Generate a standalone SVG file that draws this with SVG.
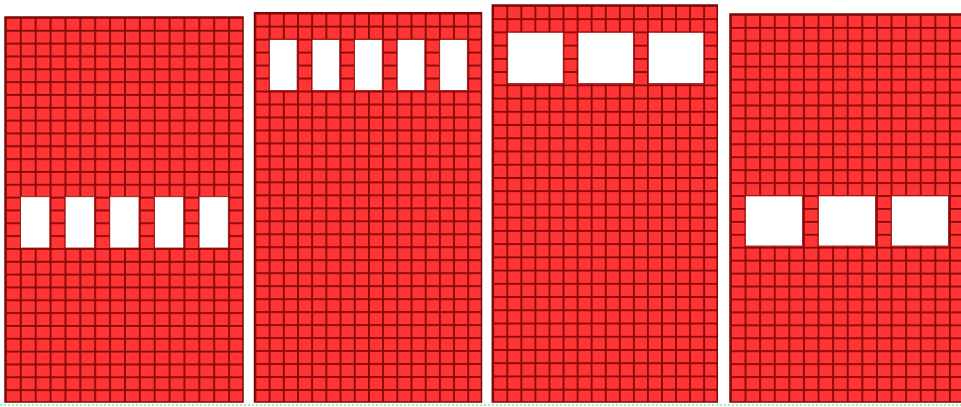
<svg xmlns="http://www.w3.org/2000/svg" width="961" height="407" viewBox="0 0 961 407">
  <style>
    .cellfill { fill: #ff3434; }
    .cellline { fill: #860808; }
    .frame { stroke: #7a0808; stroke-width: 1.5; }
    .hole { fill: #ffffff; stroke: #a01010; stroke-width: 0.8; }
  </style>
  <defs>
    <pattern id="g1" patternUnits="userSpaceOnUse" x="5" y="17" width="14.875" height="12.833">
      <rect class="cellfill" x="0" y="0" width="14.875" height="12.833"/>
      <rect class="cellline" x="0" y="0" width="1.8" height="12.833"/>
      <rect class="cellline" x="0" y="0" width="14.875" height="1.8"/>
    </pattern>
    <pattern id="g2" patternUnits="userSpaceOnUse" x="254.5" y="12.7" width="14.1875" height="12.977">
      <rect class="cellfill" x="0" y="0" width="14.1875" height="12.977"/>
      <rect class="cellline" x="0" y="0" width="1.8" height="12.977"/>
      <rect class="cellline" x="0" y="0" width="14.1875" height="1.8"/>
    </pattern>
    <pattern id="g3" patternUnits="userSpaceOnUse" x="492.3" y="5" width="14.0625" height="13.233">
      <rect class="cellfill" x="0" y="0" width="14.0625" height="13.233"/>
      <rect class="cellline" x="0" y="0" width="1.8" height="13.233"/>
      <rect class="cellline" x="0" y="0" width="14.0625" height="1.8"/>
    </pattern>
    <pattern id="g4" patternUnits="userSpaceOnUse" x="730" y="14" width="14.6" height="12.933">
      <rect class="cellfill" x="0" y="0" width="14.6" height="12.933"/>
      <rect class="cellline" x="0" y="0" width="1.8" height="12.933"/>
      <rect class="cellline" x="0" y="0" width="14.6" height="1.8"/>
    </pattern>
  </defs>
  <rect x="0" y="0" width="961" height="407" fill="#ffffff"/>

  <g id="panel1">
    <rect class="frame" x="5" y="17" width="238" height="385" fill="url(#g1)"/>
    <rect class="hole" x="20.6" y="196.7" width="29.2" height="51.3"/>
    <rect class="hole" x="65.2" y="196.7" width="29.2" height="51.3"/>
    <rect class="hole" x="109.8" y="196.7" width="29.2" height="51.3"/>
    <rect class="hole" x="154.5" y="196.7" width="29.2" height="51.3"/>
    <rect class="hole" x="199.1" y="196.7" width="29.2" height="51.3"/>
  </g>

  <g id="panel2">
    <rect class="frame" x="254.5" y="12.7" width="227" height="389.3" fill="url(#g2)"/>
    <rect class="hole" x="269.5" y="39.5" width="27.6" height="51.1"/>
    <rect class="hole" x="312.1" y="39.5" width="27.6" height="51.1"/>
    <rect class="hole" x="354.6" y="39.5" width="27.6" height="51.1"/>
    <rect class="hole" x="397.2" y="39.5" width="27.6" height="51.1"/>
    <rect class="hole" x="439.7" y="39.5" width="27.6" height="51.1"/>
  </g>

  <g id="panel3">
    <rect class="frame" x="492.3" y="5" width="225" height="397" fill="url(#g3)"/>
    <rect class="hole" x="507.7" y="32.3" width="55.5" height="51.3"/>
    <rect class="hole" x="578.0" y="32.3" width="55.5" height="51.3"/>
    <rect class="hole" x="648.3" y="32.3" width="55.5" height="51.3"/>
  </g>

  <g id="panel4">
    <rect class="frame" x="730" y="14" width="240" height="388" fill="url(#g4)"/>
    <rect class="hole" x="745.4" y="195.9" width="57.0" height="50.1"/>
    <rect class="hole" x="818.4" y="195.9" width="57.0" height="50.1"/>
    <rect class="hole" x="891.4" y="195.9" width="57.0" height="50.1"/>
  </g>

  <g id="connectors"></g>

  <line x1="0" y1="405" x2="961" y2="405" stroke="#8fe68f" stroke-width="1.5" stroke-dasharray="2 2"/>
</svg>
